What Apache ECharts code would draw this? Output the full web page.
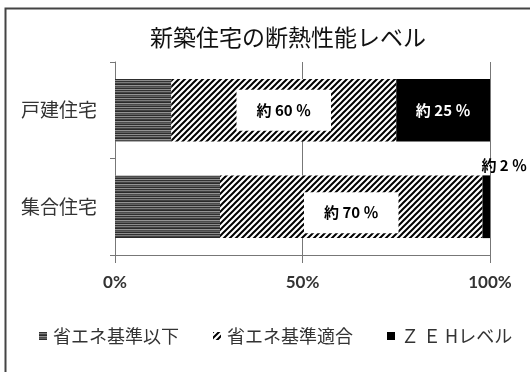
<!DOCTYPE html>
<html>
<head>
<meta charset="utf-8">
<script src="https://cdn.jsdelivr.net/npm/echarts@6/dist/echarts.min.js"></script>
<style>
  html, body { margin: 0; padding: 0; background: #fff; }
  #chart { width: 530px; height: 372px; }
</style>
</head>
<body>
<div id="chart"></div>
<script>
// Housing types and share of each insulation level (%)
const categories = ['戸建住宅', '集合住宅'];
const belowStandard = [15, 28];   // 省エネ基準以下
const meetsStandard = [60, 70];   // 省エネ基準適合
const zehLevel = [25, 2];         // ＺＥＨレベル
const seriesNames = ['省エネ基準以下', '省エネ基準適合', 'Ｚ Ｅ Hレベル'];
const xTicks = [0, 50, 100];

const CJK = '"Noto Sans CJK JP", "Noto Sans", sans-serif';

// Horizontal gray stripes fill
function stripePattern() {
  const c = document.createElement('canvas');
  const rows = ['#333333', '#7c7c7c', '#444444', '#2a2a2a', '#949494', '#4c4c4c', '#626262', '#2e2e2e', '#8e8e8e'];
  c.width = 4; c.height = rows.length;
  const ctx = c.getContext('2d');
  rows.forEach((col, i) => { ctx.fillStyle = col; ctx.fillRect(0, i, 4, 1); });
  return { image: c, repeat: 'repeat' };
}

// Diagonal "/" hatch fill
function hatchPattern() {
  const s = 6;
  const c = document.createElement('canvas');
  c.width = s; c.height = s;
  const ctx = c.getContext('2d');
  ctx.fillStyle = '#fff';
  ctx.fillRect(0, 0, s, s);
  ctx.strokeStyle = '#000';
  ctx.lineWidth = 2;
  ctx.beginPath();
  ctx.moveTo(-s / 2, s / 2); ctx.lineTo(s / 2, -s / 2);
  ctx.moveTo(0, s); ctx.lineTo(s, 0);
  ctx.moveTo(s / 2, s * 1.5); ctx.lineTo(s * 1.5, s / 2);
  ctx.stroke();
  return { image: c, repeat: 'repeat' };
}

const pctLabel = v => '約 ' + v + ' ％';

const chart = echarts.init(document.getElementById('chart'), null, { renderer: 'canvas' });

chart.setOption({
  animation: false,
  backgroundColor: '#fff',
  title: {
    text: '新築住宅の断熱性能レベル',
    left: 145,
    top: 21,
    textStyle: { fontFamily: CJK, fontSize: 23, fontWeight: 'normal', color: '#111' }
  },
  legend: {
    bottom: 22,
    left: 34,
    itemWidth: 8,
    itemHeight: 8,
    itemGap: 34,
    icon: 'rect',
    textStyle: { fontFamily: CJK, fontSize: 18, color: '#333', padding: [0, 0, 0, 1] },
    data: seriesNames
  },
  grid: { left: 115, right: 40, top: 62, bottom: 117 },
  xAxis: {
    type: 'value',
    min: xTicks[0],
    max: xTicks[xTicks.length - 1],
    interval: 50,
    axisLine: { show: true, lineStyle: { color: '#777', width: 1 } },
    axisTick: { show: true, length: 8, lineStyle: { color: '#777' } },
    splitLine: { show: true, lineStyle: { color: '#777', width: 1 } },
    axisLabel: {
      formatter: '{value}%',
      margin: 19,
      fontFamily: 'Lato, sans-serif',
      fontWeight: 'bold',
      fontSize: 17,
      color: '#333'
    }
  },
  yAxis: {
    type: 'category',
    inverse: true,
    data: categories,
    axisLine: { show: true, lineStyle: { color: '#777', width: 1 } },
    axisTick: { show: true, length: 5, lineStyle: { color: '#777' } },
    axisLabel: { fontFamily: CJK, fontSize: 19, color: '#333', margin: 18 }
  },
  graphic: [{
    type: 'rect',
    shape: { x: 5.5, y: 8.5, width: 700, height: 500 },
    style: { fill: null, stroke: '#444', lineWidth: 2 },
    silent: true,
    z: 100
  }],
  series: [
    {
      name: seriesNames[0],
      type: 'bar',
      stack: 'total',
      barWidth: '65%',
      itemStyle: { color: stripePattern() },
      data: belowStandard
    },
    {
      name: seriesNames[1],
      type: 'bar',
      stack: 'total',
      itemStyle: { color: hatchPattern() },
      label: {
        show: true,
        position: 'inside',
        formatter: p => pctLabel(p.value),
        backgroundColor: '#fff',
        padding: [13, 20],
        fontFamily: CJK,
        fontWeight: 'bold',
        fontSize: 15,
        color: '#000'
      },
      data: meetsStandard.map((v, i) => i === 1 ? { value: v, label: { offset: [0, 6] } } : v)
    },
    {
      name: seriesNames[2],
      type: 'bar',
      stack: 'total',
      itemStyle: { color: '#000' },
      label: {
        show: true,
        position: 'inside',
        formatter: p => pctLabel(p.value),
        fontFamily: CJK,
        fontWeight: 'bold',
        fontSize: 15,
        color: '#fff'
      },
      data: zehLevel.map((v, i) => i === 1
        ? { value: v, label: { position: 'top', offset: [18, 2], color: '#000' } }
        : v)
    }
  ]
});
</script>
</body>
</html>
